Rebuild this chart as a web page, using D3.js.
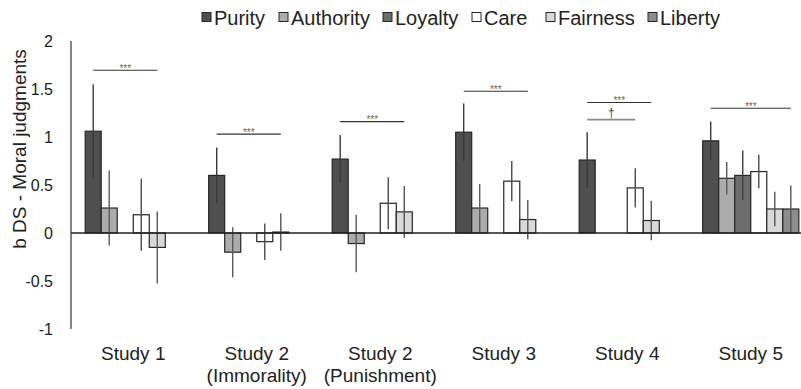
<!DOCTYPE html>
<html>
<head>
<meta charset="utf-8">
<script src="https://cdn.jsdelivr.net/npm/d3@7"></script>
<style>
  html, body { margin: 0; padding: 0; background: #fff; }
  svg { display: block; font-family: "Liberation Sans", Arial, sans-serif; }
</style>
</head>
<body>
<svg id="chart" width="801" height="389"></svg>
<script>
// ---------- data ----------
const studies = ["Study 1", "Study 2\n(Immorality)", "Study 2\n(Punishment)", "Study 3", "Study 4", "Study 5"];
const seriesNames = ["Purity", "Authority", "Loyalty", "Care", "Fairness", "Liberty"];

const purity    = [1.06, 0.60, 0.77, 1.05, 0.76, 0.96];
const authority = [0.26, -0.20, -0.11, 0.26, null, 0.57];
const loyalty   = [null, null, null, null, null, 0.60];
const care      = [0.19, -0.09, 0.31, 0.54, 0.47, 0.64];
const fairness  = [-0.15, 0.01, 0.22, 0.14, 0.13, 0.25];
const liberty   = [null, null, null, null, null, 0.25];

const purityErr    = [0.49, 0.29, 0.25, 0.30, 0.29, 0.20];
const authorityErr = [0.39, 0.26, 0.30, 0.25, null, 0.17];
const loyaltyErr   = [null, null, null, null, null, 0.26];
const careErr      = [0.375, 0.19, 0.27, 0.21, 0.205, 0.175];
const fairnessErr  = [0.375, 0.195, 0.27, 0.205, 0.205, 0.18];
const libertyErr   = [null, null, null, null, null, 0.245];

const yTickValues = [-1, -0.5, 0, 0.5, 1, 1.5, 2];
const yTickLabels = ["-1", "-0.5", "0", "0.5", "1", "1.5", "2"];

// significance brackets: study index, from series, to series, level (data units), label
const sigStudy = [0, 1, 2, 3, 4, 4, 5];
const sigFrom  = ["Purity", "Purity", "Purity", "Purity", "Purity", "Purity", "Purity"];
const sigTo    = ["Fairness", "Fairness", "Fairness", "Fairness", "Fairness", "Care", "Liberty"];
const sigLevel = [1.695, 1.03, 1.16, 1.476, 1.36, 1.18, 1.30];
const sigLabel = ["***", "***", "***", "***", "***", "\u2020", "***"];

// ---------- styling ----------
const values = [purity, authority, loyalty, care, fairness, liberty];
const errs = [purityErr, authorityErr, loyaltyErr, careErr, fairnessErr, libertyErr];
const fills = ["#4f4f4f", "#acacac", "#6d6d6d", "#ffffff", "#d9d9d9", "#8d8d8d"];
const errColors = ["#3a3a3a", "#5a5a5a", "#3e3e3e", "#4a4a4a", "#555555", "#555555"];
const legendX = [202, 279, 383, 472, 546, 648];

const svg = d3.select("#chart");

const x0 = d3.scaleBand().domain(studies).range([71.5, 812.5]).paddingInner(0.2216).paddingOuter(0.1108);
const x1 = d3.scaleBand().domain(seriesNames).range([0, x0.bandwidth()]).padding(0);
const y = d3.scaleLinear().domain([-1, 2]).range([329, 41]);

// y axis
const yAxis = d3.axisLeft(y).tickValues(yTickValues).tickSize(0).tickPadding(0)
  .tickFormat((d, i) => yTickLabels[i]);
const gy = svg.append("g").attr("transform", "translate(53,0)").call(yAxis);
gy.select(".domain").remove();
gy.selectAll("text").attr("font-size", 16).attr("fill", "#222").attr("font-family", "Liberation Sans, Arial, sans-serif");

svg.append("line").attr("x1", 71).attr("x2", 71).attr("y1", y(2)).attr("y2", y(-1))
  .attr("stroke", "#333").attr("stroke-width", 1.2);

// y title
svg.append("text")
  .attr("transform", `translate(26,149) rotate(-90)`)
  .attr("text-anchor", "middle")
  .attr("font-size", 19)
  .attr("fill", "#222")
  .text("b DS - Moral judgments");

// bars
const groups = svg.append("g").selectAll("g").data(studies).join("g")
  .attr("transform", d => `translate(${x0(d)},0)`);

groups.each(function(study, si) {
  const g = d3.select(this);
  seriesNames.forEach((s, k) => {
    const v = values[k][si];
    if (v === null) return;
    g.append("rect")
      .attr("x", x1(s))
      .attr("width", x1.bandwidth())
      .attr("y", y(Math.max(0, v)))
      .attr("height", Math.abs(y(v) - y(0)))
      .attr("fill", fills[k])
      .attr("stroke", "#262626")
      .attr("stroke-width", 1.2);
  });
});

// zero line
svg.append("line").attr("x1", 71).attr("x2", 801).attr("y1", y(0)).attr("y2", y(0))
  .attr("stroke", "#222").attr("stroke-width", 1.5);

// error bars
groups.each(function(study, si) {
  const g = d3.select(this);
  seriesNames.forEach((s, k) => {
    const v = values[k][si], e = errs[k][si];
    if (v === null || e === null) return;
    const cx = x1(s) + x1.bandwidth() / 2;
    g.append("line")
      .attr("x1", cx).attr("x2", cx)
      .attr("y1", y(v + e)).attr("y2", y(v - e))
      .attr("stroke", errColors[k]).attr("stroke-width", 1.4);
  });
});

// significance brackets
sigStudy.forEach((si, i) => {
  const st = studies[si];
  const xa = x0(st) + x1(sigFrom[i]) + x1.bandwidth() / 2;
  const xb = x0(st) + x1(sigTo[i]) + x1.bandwidth() / 2;
  const yy = y(sigLevel[i]);
  const dagger = sigLabel[i] !== "***";
  svg.append("line").attr("x1", xa).attr("x2", xb).attr("y1", yy).attr("y2", yy)
    .attr("stroke", dagger ? "#8a8a8a" : "#333")
    .attr("stroke-width", dagger ? 1.8 : 1.1);
  svg.append("text")
    .attr("x", (xa + xb) / 2)
    .attr("y", dagger ? yy - 3 : yy + 1.5)
    .attr("text-anchor", "middle")
    .attr("font-size", dagger ? 12 : 10)
    .attr("fill", dagger ? "#444" : "#666")
    .text(sigLabel[i]);
});

// x axis labels
const xAxis = d3.axisBottom(x0).tickSize(0).tickPadding(0);
const gx = svg.append("g").attr("transform", `translate(0,0)`).call(xAxis);
gx.select(".domain").remove();
gx.selectAll(".tick text").each(function(d) {
  const t = d3.select(this);
  t.text(null).attr("y", null).attr("dy", null)
    .attr("font-size", 19).attr("fill", "#222").attr("font-family", "Liberation Sans, Arial, sans-serif");
  d.split("\n").forEach((line, li) => {
    t.append("tspan").attr("x", 0).attr("y", 360 + li * 21.5).text(line);
  });
});

// legend
const leg = svg.append("g");
seriesNames.forEach((s, k) => {
  leg.append("rect").attr("x", legendX[k]).attr("y", 12.5).attr("width", 9).attr("height", 9)
    .attr("fill", fills[k]).attr("stroke", "#262626").attr("stroke-width", 1);
  leg.append("text").attr("x", legendX[k] + 12).attr("y", 24.5)
    .attr("font-size", 20).attr("fill", "#222").text(s);
});
</script>
</body>
</html>
